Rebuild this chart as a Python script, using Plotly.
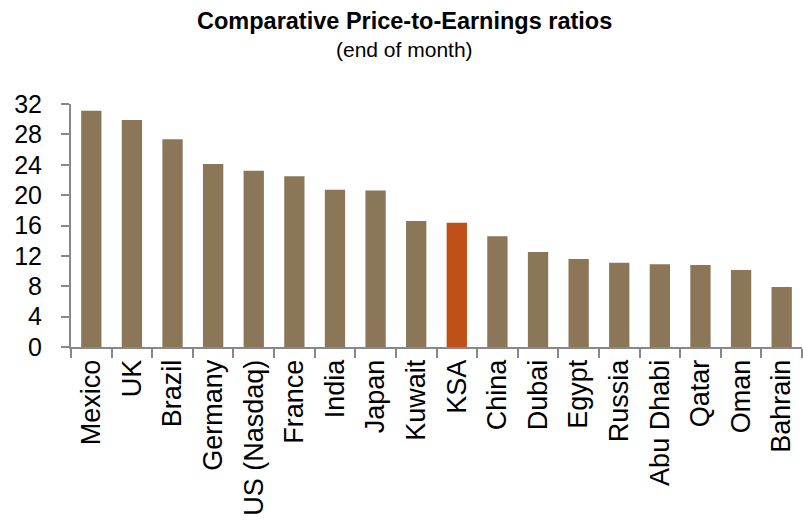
import plotly.graph_objects as go

# Price-to-earnings ratios by market, end of month
markets = ["Mexico", "UK", "Brazil", "Germany", "US (Nasdaq)", "France", "India",
           "Japan", "Kuwait", "KSA", "China", "Dubai", "Egypt", "Russia",
           "Abu Dhabi", "Qatar", "Oman", "Bahrain"]
pe_ratios = [31.1, 29.9, 27.35, 24.1, 23.2, 22.5, 20.7, 20.6, 16.6, 16.35,
             14.6, 12.5, 11.6, 11.1, 10.9, 10.8, 10.15, 7.9]
highlight = "KSA"

y_ticks = [0, 4, 8, 12, 16, 20, 24, 28, 32]

base_color = "#8B7757"
highlight_color = "#BF5017"
colors = [highlight_color if m == highlight else base_color for m in markets]

fig = go.Figure(
    go.Bar(
        x=markets,
        y=pe_ratios,
        marker=dict(color=colors, line=dict(width=0)),
        hoverinfo="x+y",
    )
)

font_family = "Liberation Sans, Arial, sans-serif"
axis_grey = "#888888"

fig.update_layout(
    width=803,
    height=520,
    margin=dict(l=71, r=1, t=104, b=173),
    paper_bgcolor="white",
    plot_bgcolor="white",
    bargap=0.5,
    showlegend=False,
    font=dict(family=font_family, color="black"),
    annotations=[
        dict(text="<b>Comparative Price-to-Earnings ratios</b>",
             xref="paper", yref="paper", x=0.456, y=1.0, yshift=83,
             xanchor="center", yanchor="middle", showarrow=False,
             font=dict(size=23.5, family=font_family, color="black")),
        dict(text="(end of month)",
             xref="paper", yref="paper", x=0.456, y=1.0, yshift=55,
             xanchor="center", yanchor="middle", showarrow=False,
             font=dict(size=21, family=font_family, color="black")),
    ],
)

fig.update_xaxes(
    type="category",
    tickangle=-90,
    tickson="boundaries",
    ticks="outside",
    ticklen=9,
    tickwidth=1.5,
    tickcolor=axis_grey,
    showline=True,
    linecolor=axis_grey,
    linewidth=2,
    showgrid=False,
    tickfont=dict(size=27, family=font_family, color="black"),
)

fig.update_yaxes(
    range=[0, 32],
    tickvals=y_ticks,
    ticktext=[str(v) for v in y_ticks],
    ticks="outside",
    ticklen=8,
    tickwidth=1.5,
    tickcolor=axis_grey,
    showline=True,
    linecolor=axis_grey,
    linewidth=2,
    showgrid=False,
    zeroline=False,
    ticklabelstandoff=14,
    tickfont=dict(size=25, family=font_family, color="black"),
)

fig.write_html("out.html")
